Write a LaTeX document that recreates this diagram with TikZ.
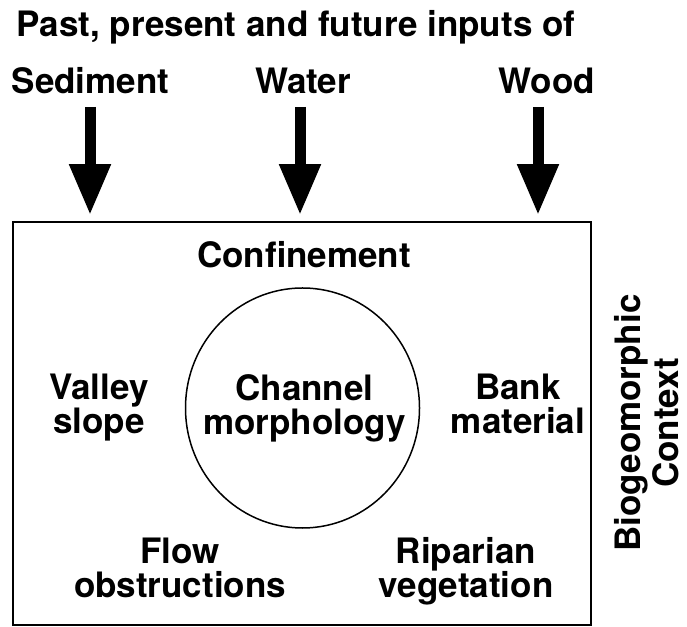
\documentclass[tikz,border=0pt]{standalone}
\usepackage{fontspec}
\newfontfamily\labelfont{TeX Gyre Heros}
\usetikzlibrary{shapes.geometric}
\usetikzlibrary{arrows.meta}
\tikzstyle{labeltext}=[font=\labelfont\bfseries\fontsize{35}{34}\selectfont, align=center, anchor=base, inner sep=0pt]
\tikzstyle{inputarrow}=[line width=11pt, -{Triangle[width=39pt,length=51pt]}, shorten >=6pt]

\begin{document}
\begin{tikzpicture}[x=1pt,y=1pt]
        \useasboundingbox (0,0) rectangle (687,626);

        % inputs
        \node[labeltext] (title) at (296,589) {Past, present and future inputs of};
        \node[labeltext] (sed) at (90.5,532) {Sediment};
        \node[labeltext] (water) at (303,532) {Water};
        \node[labeltext] (wood) at (547,532) {Wood};

        % context box
        \node[draw, line width=1.8pt, minimum width=578pt, minimum height=403pt, inner sep=0pt] (context) at (302,202.5) {};
        \node[draw, ellipse, line width=1.5pt, minimum width=234pt, minimum height=240pt, inner sep=0pt] (morph) at (302.5,218) {};
        \node[labeltext, anchor=center] (morphtext) at ([xshift=2pt]morph.center) {Channel\\morphology};

        \node[labeltext] (confine) at (304,358) {Confinement};
        \node[labeltext] (valley) at (99,192) {Valley\\slope};
        \node[labeltext] (bank) at (518,192) {Bank\\material};
        \node[labeltext] (flow) at (180,29) {Flow\\obstructions};
        \node[labeltext] (riparian) at (466,29) {Riparian\\vegetation};

        \node[labeltext, rotate=90, font=\labelfont\bfseries\fontsize{35}{38}\selectfont] (biogeo) at (678,203) {Biogeomorphic\\Context};

        % arrows into the box
        \coordinate (sedtop) at (90,519);
        \coordinate (watertop) at (300,519);
        \coordinate (woodtop) at (538,519);
        \draw[inputarrow] (sedtop) -- (sedtop |- context.north);
        \draw[inputarrow] (watertop) -- (watertop |- context.north);
        \draw[inputarrow] (woodtop) -- (woodtop |- context.north);
\end{tikzpicture}
\end{document}
